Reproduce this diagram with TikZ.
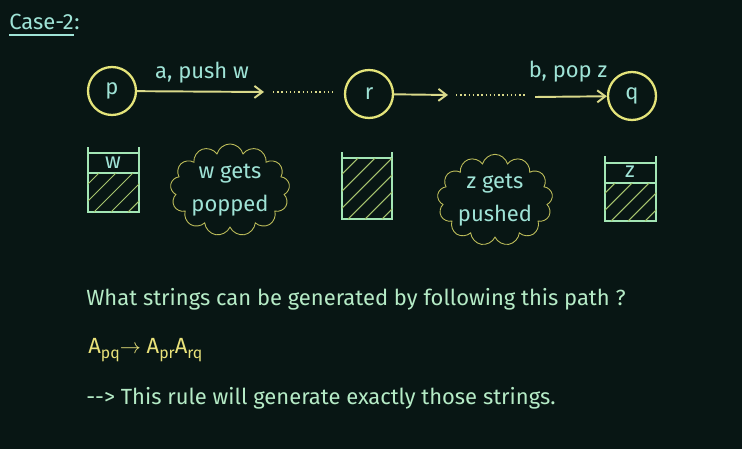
\documentclass[tikz,border=0pt]{standalone}
\usepackage{fontspec}
\setmainfont{Fira Sans}
\usepackage{tikz}
\usetikzlibrary{arrows.meta,shapes.symbols}
\definecolor{board}{HTML}{081614}
\definecolor{chalkteal}{HTML}{9FE3D6}
\definecolor{chalkyellow}{HTML}{E4E47A}
\definecolor{arrowyel}{HTML}{D9D98A}
\definecolor{stackgreen}{HTML}{A3E6B5}
\definecolor{hatchgreen}{HTML}{A6C46E}
\definecolor{cloudline}{HTML}{BDBD5A}
\definecolor{textgreen}{HTML}{B5EBC6}
\definecolor{formulayel}{HTML}{E9E27A}
\newcommand{\chalk}{\fontsize{12.5}{19}\selectfont}
\tikzset{
  state/.style     = {circle,draw=chalkyellow,line width=1.3pt,minimum size=0.96cm,
                      inner sep=0pt,text=chalkteal,font=\chalk},
  edgearr/.style   = {-{Straight Barb[length=1.6mm,width=2.4mm]},arrowyel,line width=1.1pt},
  dotline/.style   = {arrowyel,line width=1pt,dash pattern=on 0.8pt off 1.6pt},
  edgelbl/.style   = {text=chalkteal,font=\chalk},
  stackline/.style = {stackgreen,line width=1.3pt},
  hatchline/.style = {hatchgreen,line width=0.6pt},
  thought/.style   = {cloud,cloud puffs=13,cloud ignores aspect,draw=cloudline,line width=0.5pt,
                      minimum width=1.48cm,minimum height=1.7cm,inner sep=0pt,
                      text=chalkteal,align=center,font=\chalk},
  bodytxt/.style   = {anchor=west,inner sep=0pt,font=\chalk}
}
% walls, rim, divider and hatched part of one stack
\newcommand{\pdastack}[6]{%
  \draw[stackline] (#1,#3) -- (#1,#6) -- (#2,#6) -- (#2,#3);
  \draw[stackline] (#1,#4) -- (#2,#4);
  \draw[stackline] (#1,#5) -- (#2,#5);
  \begin{scope}
    \clip (#1,#5) rectangle (#2,#6);
    \foreach \k in {0,...,7}
      \draw[hatchline] ({#1-62+\k*17},#6) -- ++(75,-75);
  \end{scope}
}
\begin{document}
\begin{tikzpicture}[x=0.02cm,y=-0.02cm]
  \fill[board] (0,0) rectangle (742,449);
  \useasboundingbox (0,0) rectangle (742,449);
  \node[bodytxt,text=chalkteal] (casehead) at (9,22) {Case-2};
  \node[bodytxt,text=chalkteal,anchor=base west] (casecolon) at (casehead.base east) {:};
  \draw[chalkteal,line width=1.2pt] ([yshift=-3pt]casehead.base west) -- ([yshift=-3pt]casehead.base east);
  % states and moves
  \node[state] (p) at (112,91) {p};
  \node[state] (r) at (369,94) {r};
  \node[state] (q) at (632,96) {q};
  \coordinate (pend) at (264,92);
  \coordinate (dota) at (273,92);
  \coordinate (dotb) at (333,92);
  \coordinate (rend) at (448,95);
  \coordinate (dotc) at (456,95);
  \coordinate (dotd) at (527,95);
  \coordinate (qbeg) at (535,97);
  \draw[edgearr] (p) -- (pend);
  \draw[dotline] (dota) -- (dotb);
  \draw[edgearr] (r) -- (rend);
  \draw[dotline] (dotc) -- (dotd);
  \draw[edgearr] (qbeg) -- (q);
  \node[edgelbl] (pushlbl) at (202,73) {a, push w};
  \node[edgelbl] (poplbl) at (568,72) {b, pop z};
  % stacks
  \pdastack{88}{139}{147}{153}{173}{212}
  \pdastack{342}{392}{152}{158}{158}{219}
  \pdastack{605}{656}{156}{163}{183}{221}
  \node[text=chalkteal,font=\chalk] (wtop) at (113,163) {w};
  \node[text=chalkteal,font=\chalk] (ztop) at (630,172) {z};
  \node[thought] (popcloud) at (230,190) {w gets\\popped};
  \node[thought] (pushcloud) at (495,200) {z gets\\pushed};
  % text below
  \node[bodytxt,text=textgreen] (question) at (86,299)
    {What strings can be generated by following this path ?};
  \node[bodytxt,text=formulayel] (rule) at (88,350)
    {A\raisebox{-0.4ex}{\small pq}$\rightarrow$ A\raisebox{-0.4ex}{\small pr}A\raisebox{-0.4ex}{\small rq}};
  \node[bodytxt,text=textgreen] (claim) at (86,398)
    {{-}{-}> This rule will generate exactly those strings.};
\end{tikzpicture}
\end{document}
